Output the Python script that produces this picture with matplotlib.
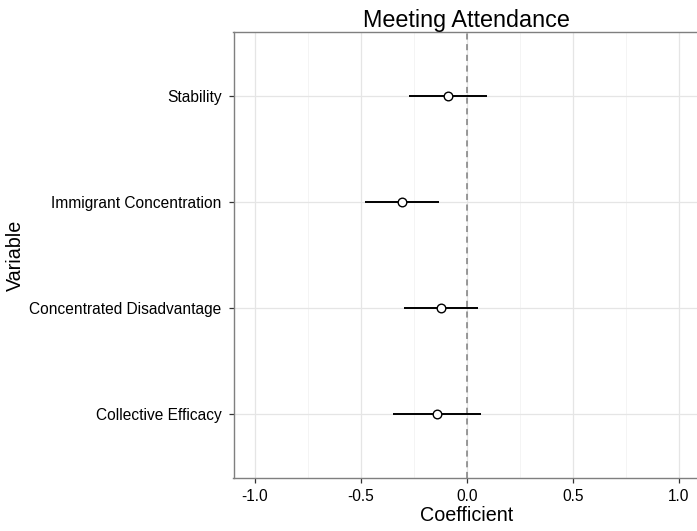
import numpy as np
import matplotlib
matplotlib.use('Agg')
import matplotlib.pyplot as plt
from matplotlib.ticker import MultipleLocator

plt.rcParams['font.family'] = ['Liberation Sans', 'DejaVu Sans']

# bottom to top
variables = ['Collective Efficacy', 'Concentrated Disadvantage',
             'Immigrant Concentration', 'Stability']
coef = [-0.141, -0.122, -0.306, -0.091]
lower = [-0.350, -0.297, -0.482, -0.275]
upper = [0.066, 0.053, -0.129, 0.096]
xticks = [-1.0, -0.5, 0.0, 0.5, 1.0]

fig = plt.figure(figsize=(6.97, 5.31), dpi=100)
# panel runs a little past the right edge of the picture (as in the reference)
ax = fig.add_axes([233.5/697, 53/531, 466.7/697, 446/531])

ypos = np.arange(1, len(variables) + 1)

ax.set_xlim(-1.1, 1.1)
ax.set_ylim(0.4, 4.6)

# grid, ggplot theme_bw style
ax.xaxis.set_minor_locator(MultipleLocator(0.25))
ax.grid(which='major', color='#e5e5e5', lw=0.9, zorder=0)
ax.grid(which='minor', axis='x', color='#f2f2f2', lw=0.6, zorder=0)
ax.set_axisbelow(True)

ax.axvline(0, color='#7f7f7f', lw=1.1, ls=(0, (4, 3)), zorder=1)

ax.hlines(ypos, lower, upper, color='black', lw=1.4, zorder=2)
ax.plot(coef, ypos, 'o', mfc='white', mec='black', ms=6.2, mew=1.0, zorder=3)

ax.set_xticks(xticks)
ax.set_xticklabels(['%.1f' % v for v in xticks])
ax.set_yticks(ypos)
ax.set_yticklabels(variables)

for s in ax.spines.values():
    s.set_color('#7f7f7f')
    s.set_linewidth(1.0)

ax.tick_params(axis='both', which='major', length=3.6, width=0.9, color='#333333',
               labelsize=11.2, pad=4)
ax.tick_params(axis='y', pad=5)
ax.tick_params(which='minor', length=0)

ax.set_title('Meeting Attendance', fontsize=16.8, pad=1)
ax.set_xlabel('Coefficient', fontsize=14.2, labelpad=2)
ax.set_ylabel('Variable', fontsize=14.2, labelpad=3)

fig.savefig('out.png', dpi=100)
